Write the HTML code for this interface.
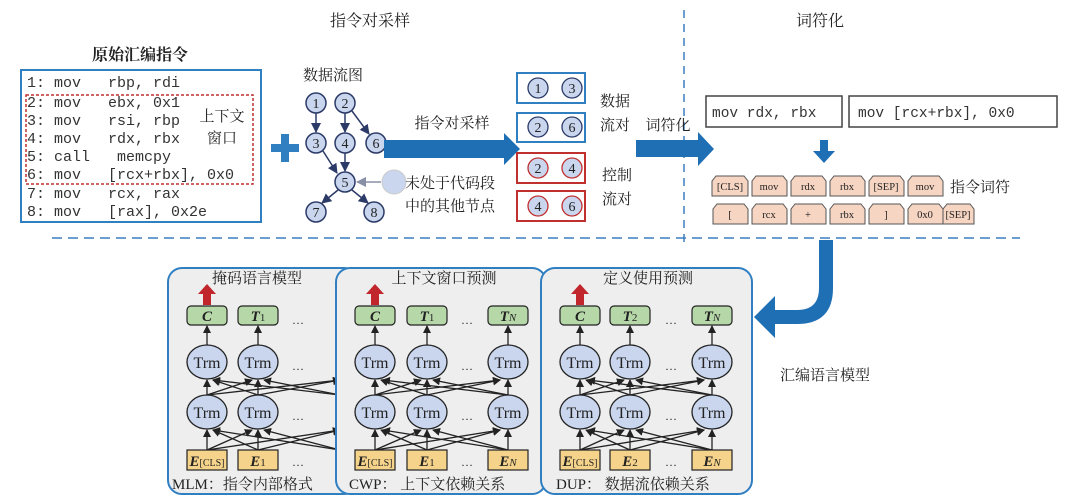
<!DOCTYPE html>
<html><head><meta charset="utf-8"><style>
body{margin:0;background:#fff}
svg{display:block}
text{font-family:"Liberation Serif","Noto Serif CJK SC","Noto Sans CJK SC",serif;fill:#222}
.m{font-family:"Liberation Mono",monospace;fill:#333;white-space:pre}
.cn{font-family:"Liberation Serif","Noto Serif CJK SC",serif}
</style></head><body>
<svg width="1080" height="503" viewBox="0 0 1080 503" xmlns="http://www.w3.org/2000/svg">
<defs>
<marker id="a" markerWidth="8" markerHeight="8" refX="7" refY="4" orient="auto" markerUnits="userSpaceOnUse"><path d="M0,0 L8,4 L0,8 z" fill="#222"/></marker>
<marker id="b" markerWidth="10" markerHeight="10" refX="9" refY="5" orient="auto" markerUnits="userSpaceOnUse"><path d="M0,0 L10,5 L0,10 z" fill="#2b3a67"/></marker>
<marker id="g" markerWidth="10" markerHeight="10" refX="9" refY="5" orient="auto" markerUnits="userSpaceOnUse"><path d="M0,0 L10,5 L0,10 z" fill="#8a8fa8"/></marker>
</defs>
<text x="370" y="26" font-size="16" text-anchor="middle" class="cn">指令对采样</text>
<text x="820" y="26" font-size="16" text-anchor="middle" class="cn">词符化</text>
<text x="140" y="60" font-size="16" text-anchor="middle" class="cn" font-weight="bold">原始汇编指令</text>
<line x1="684" y1="10" x2="684" y2="246" stroke="#3b7fc0" stroke-width="1.5" stroke-dasharray="8,6"/>
<line x1="52" y1="238" x2="1020" y2="238" stroke="#3b7fc0" stroke-width="1.5" stroke-dasharray="10,6"/>
<rect x="21" y="70" width="240" height="152" fill="#fff" stroke="#2f7fc1" stroke-width="2"/>
<rect x="26" y="95" width="227" height="89" fill="none" stroke="#c0302f" stroke-width="1.5" stroke-dasharray="3,2"/>
<g font-size="15">
<text x="27" y="87" class="m">1: mov   rbp, rdi</text>
<text x="27" y="107" class="m">2: mov   ebx, 0x1</text>
<text x="27" y="125" class="m">3: mov   rsi, rbp</text>
<text x="27" y="143" class="m">4: mov   rdx, rbx</text>
<text x="27" y="161" class="m">5: call   memcpy</text>
<text x="27" y="179" class="m">6: mov   [rcx+rbx], 0x0</text>
<text x="27" y="198" class="m">7: mov   rcx, rax</text>
<text x="27" y="216" class="m">8: mov   [rax], 0x2e</text>
</g>
<rect x="196" y="106" width="52" height="44" fill="#fff"/>
<text x="222" y="121" font-size="15" text-anchor="middle" class="cn">上下文</text>
<text x="222" y="143" font-size="15" text-anchor="middle" class="cn">窗口</text>
<rect x="271" y="144" width="28" height="8" fill="#2f7fc1"/><rect x="281" y="134" width="8" height="28" fill="#2f7fc1"/>
<text x="333" y="80" font-size="15" text-anchor="middle" class="cn">数据流图</text>
<g stroke="#2b3a67" stroke-width="1.5" marker-end="url(#b)">
<line x1="316" y1="113" x2="316" y2="132"/>
<line x1="345" y1="113" x2="345" y2="132"/>
<line x1="352" y1="111" x2="369" y2="134"/>
<line x1="323" y1="151" x2="337" y2="173"/>
<line x1="345" y1="153" x2="345" y2="171"/>
<line x1="338" y1="190" x2="322" y2="203"/>
<line x1="352" y1="190" x2="368" y2="203"/>
</g>
<line x1="381" y1="182" x2="357" y2="182" stroke="#8a8fa8" stroke-width="1.5" marker-end="url(#g)"/>
<g fill="#c9d6ee" stroke="#2b3a67" stroke-width="1.5">
<circle cx="316" cy="103" r="10"/><circle cx="345" cy="103" r="10"/><circle cx="316" cy="143" r="10"/><circle cx="345" cy="143" r="10"/><circle cx="376" cy="143" r="10"/><circle cx="345" cy="182" r="10"/><circle cx="316" cy="212" r="10"/><circle cx="374" cy="212" r="10"/>
</g>
<circle cx="394" cy="182" r="12" fill="#c9d6ee" stroke="#ccc"/>
<g font-size="14" text-anchor="middle">
<text x="316" y="108">1</text><text x="345" y="108">2</text><text x="316" y="148">3</text><text x="345" y="148">4</text><text x="376" y="148">6</text><text x="345" y="187">5</text><text x="316" y="217">7</text><text x="374" y="217">8</text>
</g>
<text x="450" y="188" font-size="15" text-anchor="middle" class="cn">未处于代码段</text>
<text x="450" y="211" font-size="15" text-anchor="middle" class="cn">中的其他节点</text>
<text x="452" y="128" font-size="15" text-anchor="middle" class="cn">指令对采样</text>
<path d="M384,140 L504,140 L504,133 L520,149 L504,165 L504,158 L384,158 z" fill="#1f6fb5"/>
<rect x="517" y="73" width="68" height="30" fill="#fff" stroke="#2f7fc1" stroke-width="2"/>
<rect x="517" y="113" width="68" height="29" fill="#fff" stroke="#2f7fc1" stroke-width="2"/>
<rect x="517" y="153" width="68" height="30" fill="#fff" stroke="#c0302f" stroke-width="2"/>
<rect x="517" y="191" width="68" height="30" fill="#fff" stroke="#c0302f" stroke-width="2"/>
<g fill="#c9d6ee" stroke-width="1.3">
<circle cx="538" cy="88" r="10" stroke="#2b3a67"/><circle cx="572" cy="88" r="10" stroke="#2b3a67"/>
<circle cx="538" cy="127" r="10" stroke="#2b3a67"/><circle cx="572" cy="127" r="10" stroke="#2b3a67"/>
<circle cx="538" cy="168" r="10" stroke="#c0302f"/><circle cx="572" cy="168" r="10" stroke="#c0302f"/>
<circle cx="538" cy="206" r="10" stroke="#c0302f"/><circle cx="572" cy="206" r="10" stroke="#c0302f"/>
</g>
<g font-size="14" text-anchor="middle">
<text x="538" y="93">1</text><text x="572" y="93">3</text><text x="538" y="132">2</text><text x="572" y="132">6</text>
<text x="538" y="173">2</text><text x="572" y="173">4</text><text x="538" y="211">4</text><text x="572" y="211">6</text>
</g>
<g font-size="15" class="cn">
<text x="600" y="106">数据</text><text x="600" y="130">流对</text>
<text x="602" y="180">控制</text><text x="602" y="204">流对</text>
</g>
<text x="668" y="130" font-size="15" text-anchor="middle" class="cn">词符化</text>
<path d="M636,140 L698,140 L698,132 L714,149 L698,166 L698,157 L636,157 z" fill="#1f6fb5"/>
<rect x="706" y="96" width="136" height="31" fill="#fff" stroke="#444" stroke-width="1.5"/>
<rect x="849" y="96" width="208" height="31" fill="#fff" stroke="#444" stroke-width="1.5"/>
<text x="712" y="117" font-size="14.5" class="m">mov rdx, rbx</text>
<text x="858" y="117" font-size="14.5" class="m">mov [rcx+rbx], 0x0</text>
<path d="M820,140 L828,140 L828,151 L835,151 L824,163 L813,151 L820,151 z" fill="#1f6fb5"/>
<g fill="#f7d5c3" stroke="#555" stroke-width="1">
<path d="M712,196 L712,181 L716,176 L744,176 L748,181 L748,196 z"/>
<path d="M752,196 L752,181 L756,176 L783,176 L787,181 L787,196 z"/>
<path d="M791,196 L791,181 L795,176 L822,176 L826,181 L826,196 z"/>
<path d="M830,196 L830,181 L834,176 L861,176 L865,181 L865,196 z"/>
<path d="M869,196 L869,181 L873,176 L900,176 L904,181 L904,196 z"/>
<path d="M908,196 L908,181 L912,176 L939,176 L943,181 L943,196 z"/>
<path d="M713,224 L713,209 L717,204 L744,204 L748,209 L748,224 z"/>
<path d="M752,224 L752,209 L756,204 L783,204 L787,209 L787,224 z"/>
<path d="M791,224 L791,209 L795,204 L822,204 L826,209 L826,224 z"/>
<path d="M830,224 L830,209 L834,204 L861,204 L865,209 L865,224 z"/>
<path d="M869,224 L869,209 L873,204 L900,204 L904,209 L904,224 z"/>
<path d="M908,224 L908,209 L912,204 L939,204 L943,209 L943,224 z"/>
<path d="M943,224 L943,209 L947,204 L970,204 L974,209 L974,224 z"/>
</g>
<g font-size="10.5" class="m" text-anchor="middle" style="fill:#555">
<text x="730" y="190">[CLS]</text><text x="769" y="190">mov</text><text x="808" y="190">rdx</text><text x="847" y="190">rbx</text><text x="886" y="190">[SEP]</text><text x="925" y="190">mov</text>
<text x="730" y="218">[</text><text x="769" y="218">rcx</text><text x="808" y="218">+</text><text x="847" y="218">rbx</text><text x="886" y="218">]</text><text x="925" y="218">0x0</text><text x="958" y="218">[SEP]</text>
</g>
<text x="980" y="192" font-size="15" text-anchor="middle" class="cn">指令词符</text>
<path d="M819,240 L833,240 L833,288 Q833,324 797,324 L775,324 L775,338 L754,317 L775,296 L775,310 L797,310 Q819,310 819,288 z" fill="#1f6fb5"/>
<text x="825" y="380" font-size="15" text-anchor="middle" class="cn">汇编语言模型</text>

<rect x="168" y="268" width="190" height="226" rx="14" fill="#eeeeee" stroke="#2f7fc1" stroke-width="2"/>
<text x="257" y="283" font-size="15" text-anchor="middle" class="cn">掩码语言模型</text>
<g stroke="#222" stroke-width="1.3" marker-end="url(#a)">
<line x1="207" y1="450" x2="207" y2="430"/><line x1="258" y1="450" x2="258" y2="430"/>
<line x1="207" y1="450" x2="252" y2="430"/><line x1="207" y1="450" x2="340" y2="430"/><line x1="258" y1="450" x2="213" y2="430"/><line x1="258" y1="450" x2="340" y2="430"/><line x1="340" y1="450" x2="213" y2="430"/><line x1="340" y1="450" x2="264" y2="430"/>
<line x1="207" y1="395" x2="207" y2="380"/><line x1="258" y1="395" x2="258" y2="380"/>
<line x1="207" y1="395" x2="252" y2="380"/><line x1="207" y1="395" x2="340" y2="380"/><line x1="258" y1="395" x2="213" y2="380"/><line x1="258" y1="395" x2="340" y2="380"/><line x1="340" y1="395" x2="213" y2="380"/><line x1="340" y1="395" x2="264" y2="380"/>
<line x1="207" y1="345" x2="207" y2="326"/><line x1="258" y1="345" x2="258" y2="326"/>
</g>
<g fill="#c9d6ee" stroke="#222" stroke-width="1.3"><ellipse cx="207" cy="362" rx="20" ry="17"/><ellipse cx="258" cy="362" rx="20" ry="17"/><ellipse cx="207" cy="412" rx="20" ry="17"/><ellipse cx="258" cy="412" rx="20" ry="17"/></g>
<g fill="#b6d7a8" stroke="#222" stroke-width="1.2"><rect x="187" y="306" width="40" height="19" rx="4"/><rect x="238" y="306" width="40" height="19" rx="4"/></g>
<g fill="#f5d38a" stroke="#222" stroke-width="1.2"><rect x="187" y="450" width="40" height="20"/><rect x="238" y="450" width="40" height="20"/></g>
<path d="M203,305 L203,294 L198,294 L207,284 L216,294 L211,294 L211,305 z" fill="#c0262c"/>

<rect x="336" y="268" width="210" height="226" rx="14" fill="#eeeeee" stroke="#2f7fc1" stroke-width="2"/>
<text x="444" y="283" font-size="15" text-anchor="middle" class="cn">上下文窗口预测</text>
<g stroke="#222" stroke-width="1.3" marker-end="url(#a)">
<line x1="375" y1="450" x2="375" y2="430"/><line x1="427" y1="450" x2="427" y2="430"/><line x1="508" y1="450" x2="508" y2="430"/>
<line x1="375" y1="450" x2="421" y2="430"/><line x1="375" y1="450" x2="500" y2="430"/><line x1="427" y1="450" x2="381" y2="430"/><line x1="427" y1="450" x2="500" y2="430"/><line x1="508" y1="450" x2="383" y2="430"/><line x1="508" y1="450" x2="433" y2="430"/>
<line x1="375" y1="395" x2="375" y2="380"/><line x1="427" y1="395" x2="427" y2="380"/><line x1="508" y1="395" x2="508" y2="380"/>
<line x1="375" y1="395" x2="421" y2="380"/><line x1="375" y1="395" x2="500" y2="380"/><line x1="427" y1="395" x2="381" y2="380"/><line x1="427" y1="395" x2="500" y2="380"/><line x1="508" y1="395" x2="383" y2="380"/><line x1="508" y1="395" x2="433" y2="380"/>
<line x1="375" y1="345" x2="375" y2="326"/><line x1="427" y1="345" x2="427" y2="326"/><line x1="508" y1="345" x2="508" y2="326"/>
</g>
<g fill="#c9d6ee" stroke="#222" stroke-width="1.3"><ellipse cx="375" cy="362" rx="20" ry="17"/><ellipse cx="427" cy="362" rx="20" ry="17"/><ellipse cx="508" cy="362" rx="20" ry="17"/><ellipse cx="375" cy="412" rx="20" ry="17"/><ellipse cx="427" cy="412" rx="20" ry="17"/><ellipse cx="508" cy="412" rx="20" ry="17"/></g>
<g fill="#b6d7a8" stroke="#222" stroke-width="1.2"><rect x="355" y="306" width="40" height="19" rx="4"/><rect x="407" y="306" width="40" height="19" rx="4"/><rect x="488" y="306" width="40" height="19" rx="4"/></g>
<g fill="#f5d38a" stroke="#222" stroke-width="1.2"><rect x="355" y="450" width="40" height="20"/><rect x="407" y="450" width="40" height="20"/><rect x="488" y="450" width="40" height="20"/></g>
<path d="M371,305 L371,294 L366,294 L375,284 L384,294 L379,294 L379,305 z" fill="#c0262c"/>

<rect x="541" y="268" width="211" height="226" rx="14" fill="#eeeeee" stroke="#2f7fc1" stroke-width="2"/>
<text x="648" y="283" font-size="15" text-anchor="middle" class="cn">定义使用预测</text>
<g stroke="#222" stroke-width="1.3" marker-end="url(#a)">
<line x1="580" y1="450" x2="580" y2="430"/><line x1="630" y1="450" x2="630" y2="430"/><line x1="712" y1="450" x2="712" y2="430"/>
<line x1="580" y1="450" x2="624" y2="430"/><line x1="580" y1="450" x2="704" y2="430"/><line x1="630" y1="450" x2="586" y2="430"/><line x1="630" y1="450" x2="704" y2="430"/><line x1="712" y1="450" x2="588" y2="430"/><line x1="712" y1="450" x2="636" y2="430"/>
<line x1="580" y1="395" x2="580" y2="380"/><line x1="630" y1="395" x2="630" y2="380"/><line x1="712" y1="395" x2="712" y2="380"/>
<line x1="580" y1="395" x2="624" y2="380"/><line x1="580" y1="395" x2="704" y2="380"/><line x1="630" y1="395" x2="586" y2="380"/><line x1="630" y1="395" x2="704" y2="380"/><line x1="712" y1="395" x2="588" y2="380"/><line x1="712" y1="395" x2="636" y2="380"/>
<line x1="580" y1="345" x2="580" y2="326"/><line x1="630" y1="345" x2="630" y2="326"/><line x1="712" y1="345" x2="712" y2="326"/>
</g>
<g fill="#c9d6ee" stroke="#222" stroke-width="1.3"><ellipse cx="580" cy="362" rx="20" ry="17"/><ellipse cx="630" cy="362" rx="20" ry="17"/><ellipse cx="712" cy="362" rx="20" ry="17"/><ellipse cx="580" cy="412" rx="20" ry="17"/><ellipse cx="630" cy="412" rx="20" ry="17"/><ellipse cx="712" cy="412" rx="20" ry="17"/></g>
<g fill="#b6d7a8" stroke="#222" stroke-width="1.2"><rect x="560" y="306" width="40" height="19" rx="4"/><rect x="610" y="306" width="40" height="19" rx="4"/><rect x="692" y="306" width="40" height="19" rx="4"/></g>
<g fill="#f5d38a" stroke="#222" stroke-width="1.2"><rect x="560" y="450" width="40" height="20"/><rect x="610" y="450" width="40" height="20"/><rect x="692" y="450" width="40" height="20"/></g>
<path d="M576,305 L576,294 L571,294 L580,284 L589,294 L584,294 L584,305 z" fill="#c0262c"/>

<g font-size="16" text-anchor="middle">
<text x="207" y="368">Trm</text><text x="258" y="368">Trm</text><text x="207" y="418">Trm</text><text x="258" y="418">Trm</text>
<text x="375" y="368">Trm</text><text x="427" y="368">Trm</text><text x="508" y="368">Trm</text><text x="375" y="418">Trm</text><text x="427" y="418">Trm</text><text x="508" y="418">Trm</text>
<text x="580" y="368">Trm</text><text x="630" y="368">Trm</text><text x="712" y="368">Trm</text><text x="580" y="418">Trm</text><text x="630" y="418">Trm</text><text x="712" y="418">Trm</text>
</g>
<g font-size="15" font-weight="bold" font-style="italic" text-anchor="middle">
<text x="207" y="321">C</text><text x="258" y="321">T<tspan font-size="11" font-style="normal" font-weight="normal">1</tspan></text>
<text x="375" y="321">C</text><text x="427" y="321">T<tspan font-size="11" font-style="normal" font-weight="normal">1</tspan></text><text x="508" y="321">T<tspan font-size="11" font-weight="normal">N</tspan></text>
<text x="580" y="321">C</text><text x="630" y="321">T<tspan font-size="11" font-style="normal" font-weight="normal">2</tspan></text><text x="712" y="321">T<tspan font-size="11" font-weight="normal">N</tspan></text>
<text x="207" y="466">E<tspan font-size="10" font-style="normal" font-weight="normal">[CLS]</tspan></text><text x="258" y="466">E<tspan font-size="11" font-style="normal" font-weight="normal">1</tspan></text>
<text x="375" y="466">E<tspan font-size="10" font-style="normal" font-weight="normal">[CLS]</tspan></text><text x="427" y="466">E<tspan font-size="11" font-style="normal" font-weight="normal">1</tspan></text><text x="508" y="466">E<tspan font-size="11" font-weight="normal">N</tspan></text>
<text x="580" y="466">E<tspan font-size="10" font-style="normal" font-weight="normal">[CLS]</tspan></text><text x="630" y="466">E<tspan font-size="11" font-style="normal" font-weight="normal">2</tspan></text><text x="712" y="466">E<tspan font-size="11" font-weight="normal">N</tspan></text>
</g>
<g font-size="12" text-anchor="middle" style="fill:#555">
<text x="298" y="324">…</text><text x="298" y="370">…</text><text x="298" y="420">…</text><text x="298" y="466">…</text>
<text x="467" y="324">…</text><text x="467" y="370">…</text><text x="467" y="420">…</text><text x="467" y="466">…</text>
<text x="671" y="324">…</text><text x="671" y="370">…</text><text x="671" y="420">…</text><text x="671" y="466">…</text>
</g>
<g font-size="15" class="cn">
<text x="172" y="489">MLM：指令内部格式</text>
<text x="349" y="489">CWP：  上下文依赖关系</text>
<text x="556" y="489">DUP：  数据流依赖关系</text>
</g>
</svg>
</body></html>
